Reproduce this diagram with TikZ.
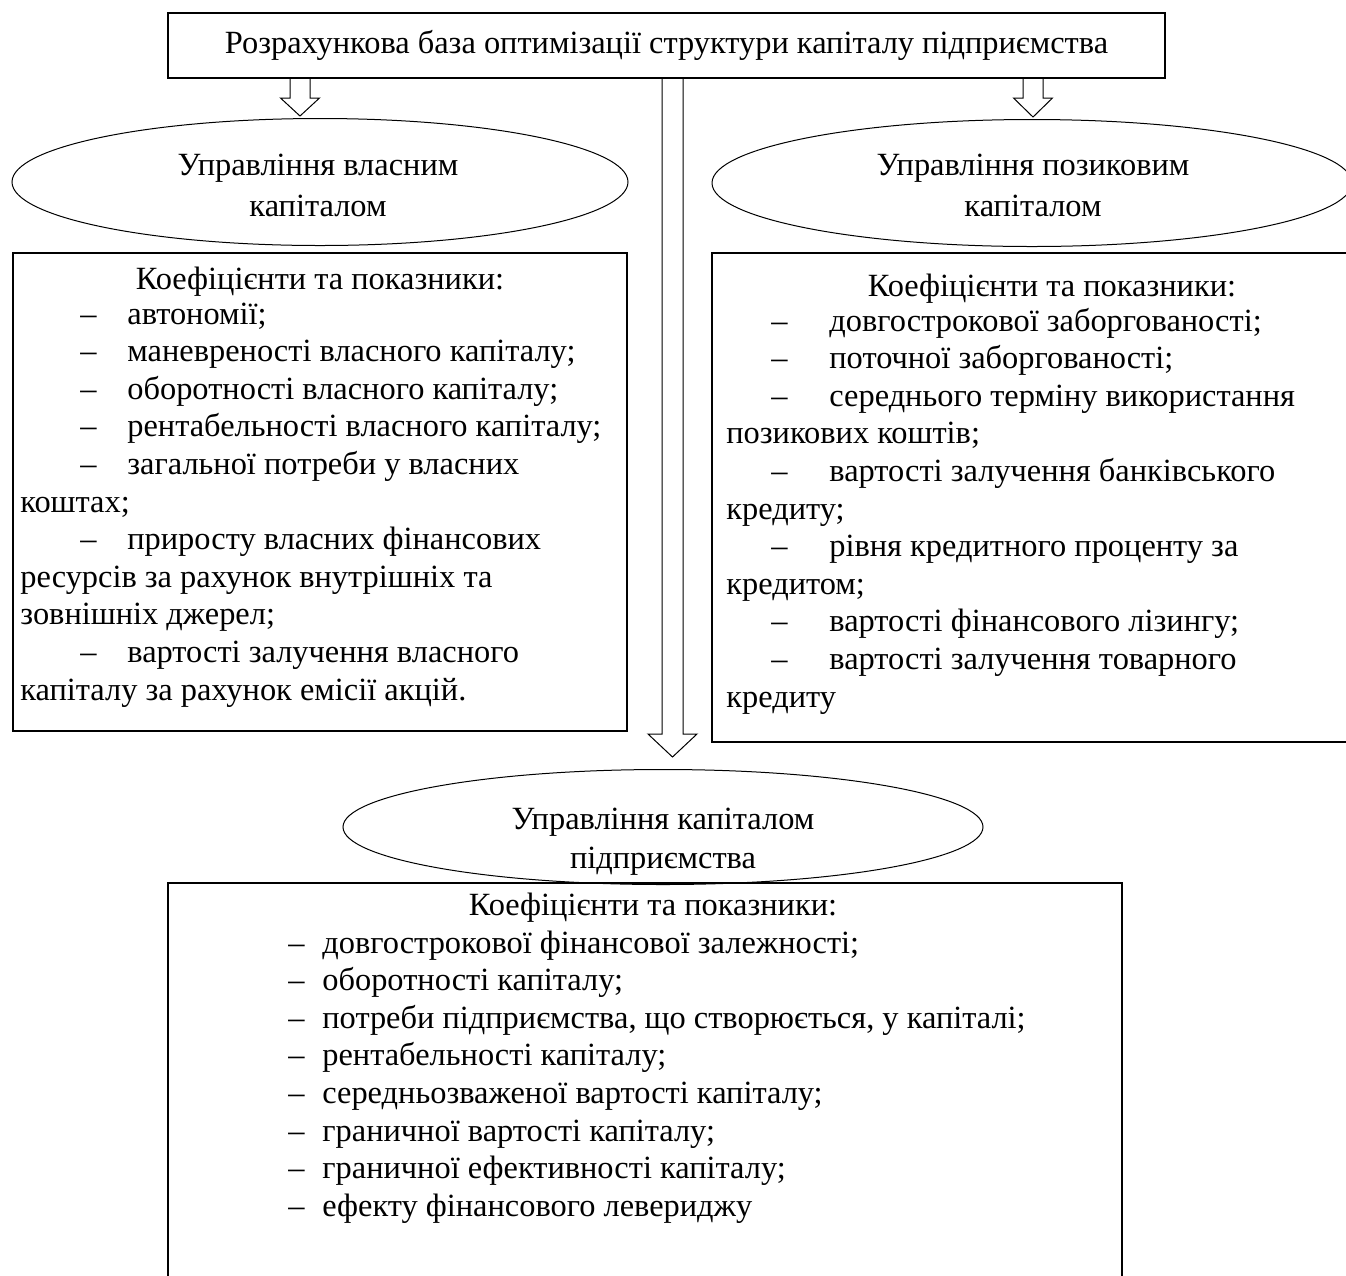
\documentclass[tikz,border=0pt]{standalone}
\usepackage{fontspec}
\setmainfont{Liberation Serif}
\usetikzlibrary{shapes.geometric,calc}
\begin{document}
\begin{tikzpicture}[x=0.5pt,y=-0.5pt,
  f/.style={font=\fontsize{16.2}{18.75}\selectfont},
  ln/.style={f, inner sep=0pt, anchor=base west},
  hd/.style={f, inner sep=0pt, anchor=base},
  boxn/.style={draw, line width=1pt, inner sep=0pt, rectangle},
  elln/.style={draw, ellipse, line width=0.5pt, inner sep=0pt},
  harrow/.style={draw, line width=0.5pt}]
\clip (0,0) rectangle (1346,1276);
\fill[white] (0,0) rectangle (1346,1276);

% top box
\node[boxn, minimum width=498.5pt, minimum height=32.5pt, f] (top) at (666.5,45.5)
  {Розрахункова база оптимізації структури капіталу підприємства};

% ellipses
\node[elln, minimum width=308pt, minimum height=63.5pt] (lell) at (320,182) {};
\node[hd] (lell1) at (318,175) {Управління власним};
\node[hd] (lell2) at (318,216) {капіталом};

\node[elln, minimum width=320pt, minimum height=63.5pt] (rell) at (1032,183) {};
\node[hd] (rell1) at (1033,175) {Управління позиковим};
\node[hd] (rell2) at (1033,216) {капіталом};

\node[elln, minimum width=320pt, minimum height=57.5pt] (bell) at (663,827) {};
\node[hd] (bell1) at (663,829) {Управління капіталом};
\node[hd] (bell2) at (663,868) {підприємства};

% hollow arrows
\coordinate (la) at (300,78);
\coordinate (ltip) at (300,116);
\draw[harrow] ($(la)+(-10,0)$) -- ($(la)+(-10,20)$) -- ($(la)+(-19.5,20)$) -- (ltip)
  -- ($(la)+(19.5,20)$) -- ($(la)+(10,20)$) -- ($(la)+(10,0)$);
\coordinate (ra) at (1033,78);
\coordinate (rtip) at (1033,117);
\draw[harrow] ($(ra)+(-10,0)$) -- ($(ra)+(-10,20)$) -- ($(ra)+(-19.5,20)$) -- (rtip)
  -- ($(ra)+(19.5,20)$) -- ($(ra)+(10,20)$) -- ($(ra)+(10,0)$);
\coordinate (ca) at (672.5,78);
\coordinate (ctip) at (672.5,757);
\draw[harrow] ($(ca)+(-10.5,0)$) -- ($(ca)+(-10.5,656)$) -- ($(ca)+(-24.5,656)$) -- (ctip)
  -- ($(ca)+(24.5,656)$) -- ($(ca)+(10.5,656)$) -- ($(ca)+(10.5,0)$);

% boxes
\node[boxn, minimum width=307pt, minimum height=239pt] (lbox) at (320,492) {};
\node[boxn, minimum width=344pt, minimum height=244.5pt] (rbox) at (1056,497.5) {};
\node[boxn, minimum width=477pt, minimum height=218.5pt] (bbox) at (645,1101.5) {};

% left box text
\node[hd] (lh) at (320,289) {Коефіцієнти та показники:};
\node[ln] (l1) at (80,324) {\makebox[23.5pt][l]{–}автономії;};
\node[ln] (l2) at (80,361.6) {\makebox[23.5pt][l]{–}маневреності власного капіталу;};
\node[ln] (l3) at (80,399.2) {\makebox[23.5pt][l]{–}оборотності власного капіталу;};
\node[ln] (l4) at (80,436.8) {\makebox[23.5pt][l]{–}рентабельності власного капіталу;};
\node[ln] (l5) at (80,474.4) {\makebox[23.5pt][l]{–}загальної потреби у власних};
\node[ln] (l6) at (20,512) {коштах;};
\node[ln] (l7) at (80,549.6) {\makebox[23.5pt][l]{–}приросту власних фінансових};
\node[ln] (l8) at (20,587.2) {ресурсів за рахунок внутрішніх та};
\node[ln] (l9) at (20,624.8) {зовнішніх джерел;};
\node[ln] (l10) at (80,662.4) {\makebox[23.5pt][l]{–}вартості залучення власного};
\node[ln] (l11) at (20,700) {капіталу за рахунок емісії акцій.};

% right box text
\node[hd] (rh) at (1052,296) {Коефіцієнти та показники:};
\node[ln] (r1) at (771,331) {\makebox[29pt][l]{–}довгострокової заборгованості;};
\node[ln] (r2) at (771,368.6) {\makebox[29pt][l]{–}поточної заборгованості;};
\node[ln] (r3) at (771,406.2) {\makebox[29pt][l]{–}середнього терміну використання};
\node[ln] (r4) at (726,443.8) {позикових коштів;};
\node[ln] (r5) at (771,481.4) {\makebox[29pt][l]{–}вартості залучення банківського};
\node[ln] (r6) at (726,519) {кредиту;};
\node[ln] (r7) at (771,556.6) {\makebox[29pt][l]{–}рівня кредитного проценту за};
\node[ln] (r8) at (726,594.2) {кредитом;};
\node[ln] (r9) at (771,631.8) {\makebox[29pt][l]{–}вартості фінансового лізингу;};
\node[ln] (r10) at (771,669.4) {\makebox[29pt][l]{–}вартості залучення товарного};
\node[ln] (r11) at (726,707) {кредиту};

% bottom box text
\node[hd] (bh) at (653,915) {Коефіцієнти та показники:};
\node[ln] (b1) at (288,953) {\makebox[17pt][l]{–}довгострокової фінансової залежності;};
\node[ln] (b2) at (288,990.6) {\makebox[17pt][l]{–}оборотності капіталу;};
\node[ln] (b3) at (288,1028.2) {\makebox[17pt][l]{–}потреби підприємства, що створюється, у капіталі;};
\node[ln] (b4) at (288,1065.8) {\makebox[17pt][l]{–}рентабельності капіталу;};
\node[ln] (b5) at (288,1103.4) {\makebox[17pt][l]{–}середньозваженої вартості капіталу;};
\node[ln] (b6) at (288,1141) {\makebox[17pt][l]{–}граничної вартості капіталу;};
\node[ln] (b7) at (288,1178.6) {\makebox[17pt][l]{–}граничної ефективності капіталу;};
\node[ln] (b8) at (288,1216.2) {\makebox[17pt][l]{–}ефекту фінансового левериджу};
\end{tikzpicture}
\end{document}
